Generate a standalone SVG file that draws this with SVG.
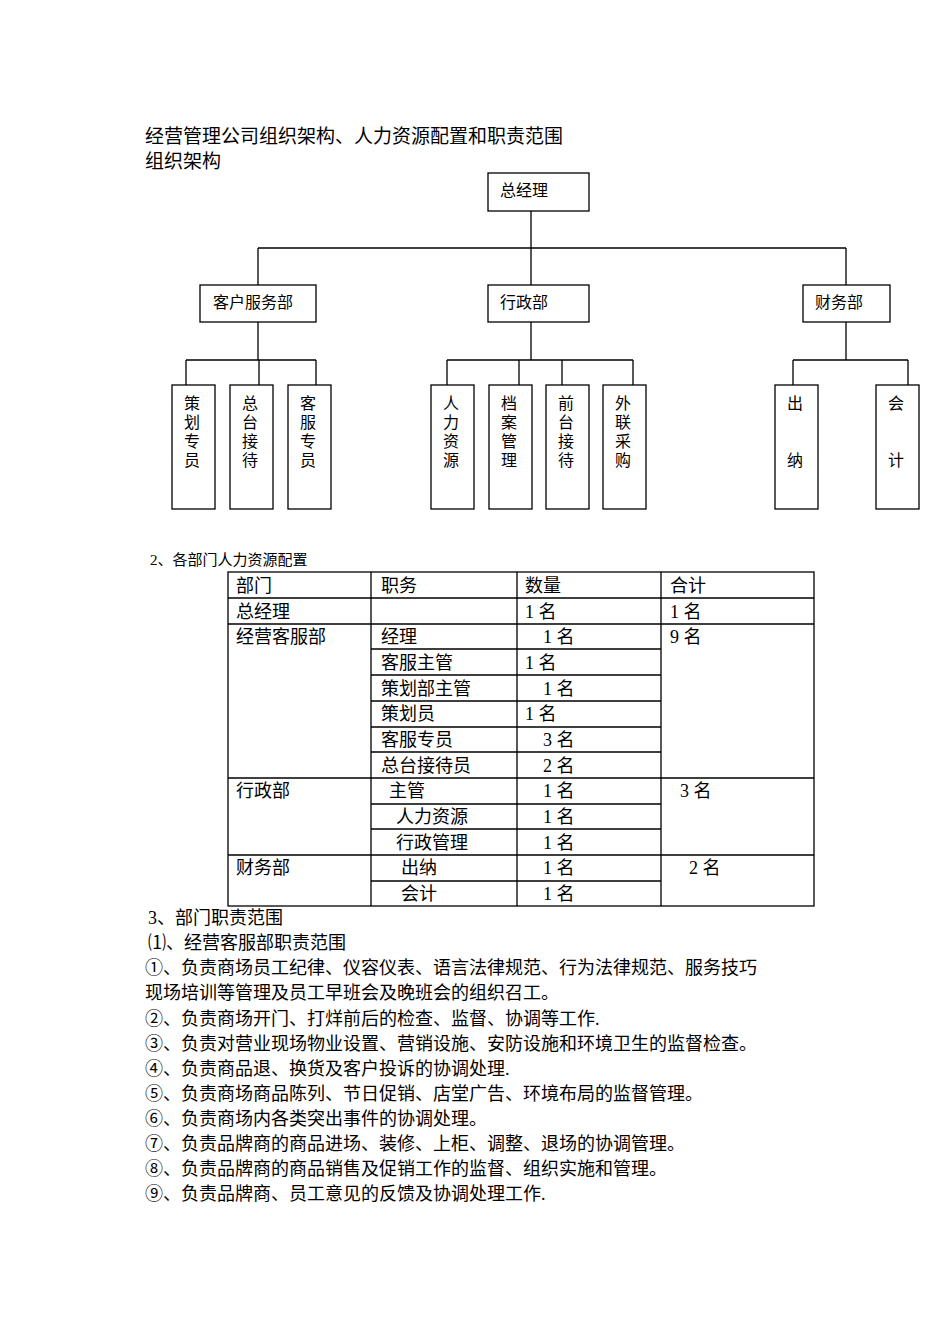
<svg xmlns="http://www.w3.org/2000/svg" width="950" height="1344" viewBox="0 0 950 1344">
<style>
text{font-family:"Liberation Serif","Noto Sans CJK SC",serif;fill:#000}
.t{font-size:19px}.s{font-size:16px}.b{font-size:18px}.h{font-size:15px}
.n{fill:#fff;stroke:#000;stroke-width:1.3}
.c{stroke:#000;stroke-width:1.3;fill:none}
.v{font-size:16px;text-anchor:middle}
</style>
<rect width="950" height="1344" fill="#fff"/>
<text class="t" x="145" y="143">经营管理公司组织架构、人力资源配置和职责范围</text>
<text class="t" x="145" y="168">组织架构</text>
<g id="connectors">
<path class="c" d="M531 211V285M258 248H846M258 248V285M846 248V285"/>
<path class="c" d="M258 322V360M186 360H316M186 360V385M259 360V385M316 360V385"/>
<path class="c" d="M531 322V360M447 360H633M447 360V385M519 360V385M562 360V385M633 360V385"/>
<path class="c" d="M846 322V360M793 360H908M793 360V385M908 360V385"/>
</g>
<g id="n0"><rect class="n" x="488" y="173" width="101" height="38"/><text class="s" x="500" y="196">总经理</text></g>
<g id="n1"><rect class="n" x="200" y="285" width="116" height="37"/><text class="s" x="213" y="308">客户服务部</text></g>
<g id="n2"><rect class="n" x="488" y="285" width="101" height="37"/><text class="s" x="500" y="308">行政部</text></g>
<g id="n3"><rect class="n" x="803" y="285" width="87" height="37"/><text class="s" x="815" y="308">财务部</text></g>
<g id="n4"><rect class="n" x="172" y="385" width="43" height="124"/><text class="v"><tspan x="192" y="409">策</tspan><tspan x="192" y="428">划</tspan><tspan x="192" y="447">专</tspan><tspan x="192" y="466">员</tspan></text></g>
<g id="n5"><rect class="n" x="230" y="385" width="43" height="124"/><text class="v"><tspan x="250" y="409">总</tspan><tspan x="250" y="428">台</tspan><tspan x="250" y="447">接</tspan><tspan x="250" y="466">待</tspan></text></g>
<g id="n6"><rect class="n" x="288" y="385" width="43" height="124"/><text class="v"><tspan x="308" y="409">客</tspan><tspan x="308" y="428">服</tspan><tspan x="308" y="447">专</tspan><tspan x="308" y="466">员</tspan></text></g>
<g id="n7"><rect class="n" x="431" y="385" width="43" height="124"/><text class="v"><tspan x="451" y="409">人</tspan><tspan x="451" y="428">力</tspan><tspan x="451" y="447">资</tspan><tspan x="451" y="466">源</tspan></text></g>
<g id="n8"><rect class="n" x="489" y="385" width="43" height="124"/><text class="v"><tspan x="509" y="409">档</tspan><tspan x="509" y="428">案</tspan><tspan x="509" y="447">管</tspan><tspan x="509" y="466">理</tspan></text></g>
<g id="n9"><rect class="n" x="546" y="385" width="43" height="124"/><text class="v"><tspan x="566" y="409">前</tspan><tspan x="566" y="428">台</tspan><tspan x="566" y="447">接</tspan><tspan x="566" y="466">待</tspan></text></g>
<g id="n10"><rect class="n" x="603" y="385" width="43" height="124"/><text class="v"><tspan x="623" y="409">外</tspan><tspan x="623" y="428">联</tspan><tspan x="623" y="447">采</tspan><tspan x="623" y="466">购</tspan></text></g>
<g id="n11"><rect class="n" x="775" y="385" width="43" height="124"/><text class="v"><tspan x="795" y="409">出</tspan><tspan x="795" y="466">纳</tspan></text></g>
<g id="n12"><rect class="n" x="876" y="385" width="43" height="124"/><text class="v"><tspan x="896" y="409">会</tspan><tspan x="896" y="466">计</tspan></text></g>
<text class="h" x="150" y="565">2、各部门人力资源配置</text>
<g id="table" class="c" stroke-width="1">
<rect x="228" y="572" width="586" height="334" fill="none" stroke="#000"/>
<path stroke="#000" d="M371 572V906M517 572V906M661 572V906M228 598H814M228 624H814M371 649H661M371 675H661M371 701H661M371 727H661M371 752H661M228 778H814M371 804H661M371 829H661M228 855H814M371 881H661"/>
</g>
<g class="b">
<text x="236" y="592">部门</text><text x="381" y="592">职务</text><text x="525" y="592">数量</text><text x="670" y="592">合计</text>
<text x="236" y="618">总经理</text><text x="525" y="618">1 名</text><text x="670" y="618">1 名</text>
<text x="236" y="643">经营客服部</text><text x="381" y="643">经理</text><text x="543" y="643">1 名</text><text x="670" y="643">9 名</text>
<text x="381" y="669">客服主管</text><text x="525" y="669">1 名</text>
<text x="381" y="695">策划部主管</text><text x="543" y="695">1 名</text>
<text x="381" y="720">策划员</text><text x="525" y="720">1 名</text>
<text x="381" y="746">客服专员</text><text x="543" y="746">3 名</text>
<text x="381" y="772">总台接待员</text><text x="543" y="772">2 名</text>
<text x="236" y="797">行政部</text><text x="389" y="797">主管</text><text x="543" y="797">1 名</text><text x="680" y="797">3 名</text>
<text x="396" y="823">人力资源</text><text x="543" y="823">1 名</text>
<text x="396" y="849">行政管理</text><text x="543" y="849">1 名</text>
<text x="236" y="874">财务部</text><text x="401" y="874">出纳</text><text x="543" y="874">1 名</text><text x="689" y="874">2 名</text>
<text x="401" y="900">会计</text><text x="543" y="900">1 名</text>
<text x="148" y="924">3、部门职责范围</text>
<text x="148" y="949">⑴、经营客服部职责范围</text>
<text x="145" y="974">①、负责商场员工纪律、仪容仪表、语言法律规范、行为法律规范、服务技巧</text>
<text x="145" y="999">现场培训等管理及员工早班会及晚班会的组织召工。</text>
<text x="145" y="1025">②、负责商场开门、打烊前后的检查、监督、协调等工作.</text>
<text x="145" y="1050">③、负责对营业现场物业设置、营销设施、安防设施和环境卫生的监督检查。</text>
<text x="145" y="1075">④、负责商品退、换货及客户投诉的协调处理.</text>
<text x="145" y="1100">⑤、负责商场商品陈列、节日促销、店堂广告、环境布局的监督管理。</text>
<text x="145" y="1125">⑥、负责商场内各类突出事件的协调处理。</text>
<text x="145" y="1150">⑦、负责品牌商的商品进场、装修、上柜、调整、退场的协调管理。</text>
<text x="145" y="1175">⑧、负责品牌商的商品销售及促销工作的监督、组织实施和管理。</text>
<text x="145" y="1200">⑨、负责品牌商、员工意见的反馈及协调处理工作.</text>
</g>
</svg>
